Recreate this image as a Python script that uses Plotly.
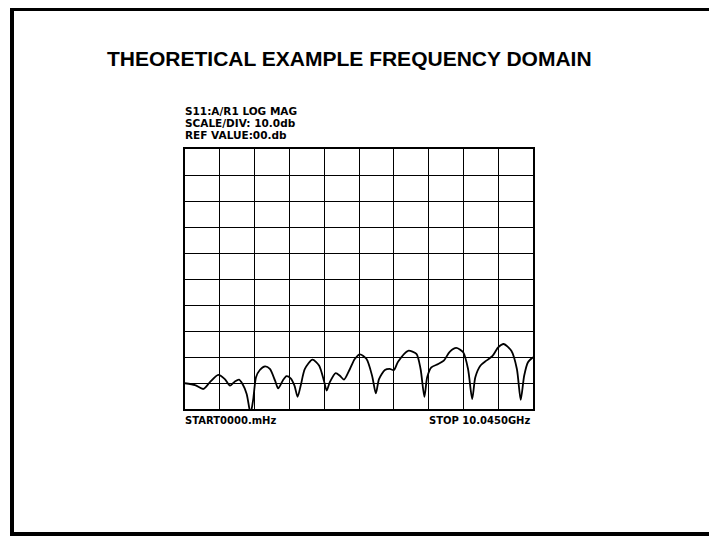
import plotly.graph_objects as go

# ---- data ----
freq_ghz = [0.00, 0.29, 0.53, 0.72, 0.96, 1.15, 1.30, 1.44, 1.56, 1.66, 1.78, 1.87, 1.90, 1.97,
            2.05, 2.16, 2.31, 2.45, 2.60, 2.69, 2.82, 2.93, 3.05, 3.16, 3.25, 3.34, 3.46, 3.68,
            3.87, 4.01, 4.09, 4.18, 4.35, 4.47, 4.59, 4.76, 4.90, 5.05, 5.24, 5.40, 5.51, 5.60,
            5.77, 5.91, 6.03, 6.15, 6.44, 6.68, 6.80, 6.91, 6.99, 7.11, 7.31, 7.47, 7.64, 7.83,
            8.03, 8.17, 8.29, 8.38, 8.53, 8.70, 8.87, 9.04, 9.20, 9.42, 9.58, 9.69, 9.79, 9.90,
            10.045]
mag_db = [-90.1, -90.8, -92.3, -89.7, -86.9, -88.5, -91.0, -89.4, -88.7, -90.4, -94.2, -100.5, -101.3, -96.2,
          -87.8, -85.0, -83.6, -84.6, -89.1, -92.1, -89.1, -87.4, -88.2, -91.0, -95.3, -91.0, -84.6, -81.0,
          -83.3, -89.1, -92.9, -89.7, -86.2, -87.2, -88.7, -84.6, -80.8, -79.0, -80.8, -87.2, -94.0, -88.5,
          -85.0, -84.6, -85.0, -81.8, -77.6, -78.8, -84.6, -95.3, -87.8, -84.0, -82.7, -81.4, -78.0, -76.5,
          -78.2, -84.6, -96.2, -87.8, -83.3, -81.4, -79.7, -76.3, -75.0, -77.6, -84.6, -96.5, -87.2, -82.0,
          -80.1]

title_text = "THEORETICAL EXAMPLE FREQUENCY DOMAIN"
header_lines = ["S11:A/R1 LOG MAG", "SCALE/DIV: 10.0db", "REF VALUE:00.db"]
start_label = "START0000.mHz"
stop_label = "STOP 10.0450GHz"
ref_db = 0.0
scale_db_per_div = 10.0
stop_ghz = 10.045
n_div = 10

fig = go.Figure()
fig.add_trace(go.Scatter(
    x=freq_ghz, y=mag_db, mode="lines",
    line=dict(color="black", width=1.8, shape="spline", smoothing=0.7),
    hoverinfo="skip", showlegend=False,
))

fig.update_xaxes(
    range=[0, stop_ghz], dtick=stop_ghz / n_div, tick0=0,
    showgrid=True, gridcolor="black", gridwidth=1.4,
    showticklabels=False, ticks="", zeroline=False,
    showline=True, linecolor="black", linewidth=1.6, mirror=True,
)
fig.update_yaxes(
    range=[ref_db - scale_db_per_div * n_div, ref_db], dtick=scale_db_per_div, tick0=0,
    showgrid=True, gridcolor="black", gridwidth=1.4,
    showticklabels=False, ticks="", zeroline=False,
    showline=True, linecolor="black", linewidth=1.6, mirror=True,
)

# figure is placed 8px from the page corner (body margin)
W, H = 709, 528
L, R, T, B = 177, 184, 141, 127
PW, PH = W - L - R, H - T - B

def px(xf):
    return (xf - L) / PW

def py(yf):
    return (H - B - yf) / PH

head_font = dict(family="DejaVu Sans", size=10.5, color="black", weight="bold")
foot_font = dict(family="DejaVu Sans", size=10, color="black", weight="bold")
annotations = [
    dict(text=title_text, x=px(341), y=py(51), xref="paper", yref="paper",
         xanchor="center", yanchor="middle", showarrow=False,
         font=dict(family="Liberation Sans", size=21, color="black", weight="bold")),
]
for i, line in enumerate(header_lines):
    annotations.append(dict(text=line, x=0, y=py(103 + 12 * i), xref="paper", yref="paper",
                            xanchor="left", yanchor="middle", showarrow=False, xshift=-2,
                            font=head_font))
annotations.append(dict(text=start_label, x=0, y=py(412), xref="paper", yref="paper",
                        xanchor="left", yanchor="middle", showarrow=False, xshift=-2, font=foot_font))
annotations.append(dict(text=stop_label, x=px(522), y=py(412), xref="paper", yref="paper",
                        xanchor="right", yanchor="middle", showarrow=False, xshift=2, font=foot_font))

fig.update_layout(
    width=W, height=H,
    margin=dict(l=L, r=R, t=T, b=B),
    paper_bgcolor="white", plot_bgcolor="white",
    annotations=annotations,
    shapes=[dict(type="rect", xref="paper", yref="paper",
                 x0=px(4), x1=px(704), y0=py(526), y1=py(1),
                 line=dict(color="black", width=4), layer="below")],
)

fig.write_html("out.html")
